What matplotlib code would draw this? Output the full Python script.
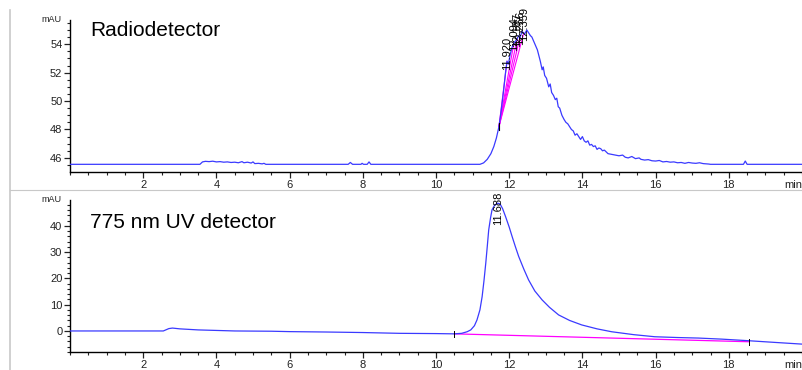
#!/usr/bin/env python3
"""Two stacked HPLC chromatograms: radiodetector (top) and 775 nm UV (bottom)."""

import matplotlib.pyplot as plt
import matplotlib.transforms as mtransforms
from matplotlib.lines import Line2D
from matplotlib.ticker import MultipleLocator, FixedLocator

plt.rcParams['font.family'] = ['Liberation Sans', 'DejaVu Sans']

TRACE = '#3a3aff'
BASELINE = '#ff00ff'
FRAME = '#c8c8c8'

# ---------------------------------------------------------------------------
# Radiodetector trace (min, mAU)
# ---------------------------------------------------------------------------
RADIO_T = [0.0, 3.55, 3.62, 3.7, 3.8, 3.9, 4.0, 4.1, 4.2, 4.3, 4.4, 4.5, 4.6,
           4.7, 4.75, 4.85, 4.95, 5.0, 5.05, 5.15, 5.25, 5.3, 5.35,
           7.6, 7.66, 7.72, 7.95, 7.98, 8.02, 8.12, 8.17, 8.22,
           11.2, 11.3, 11.4, 11.5, 11.58, 11.65, 11.72, 11.78, 11.85, 11.9,
           11.94, 11.98, 12.02, 12.08, 12.13, 12.2, 12.26, 12.3, 12.35, 12.42,
           12.48, 12.53, 12.58, 12.62, 12.67, 12.72, 12.77, 12.8, 12.85, 12.9,
           12.93, 12.97, 13.02, 13.08, 13.12, 13.16, 13.21, 13.26, 13.3, 13.34,
           13.38, 13.44, 13.5, 13.55, 13.6, 13.65, 13.7, 13.75, 13.8, 13.85,
           13.9, 13.95, 14.0, 14.05, 14.1, 14.15, 14.2, 14.25, 14.3, 14.35,
           14.4, 14.45, 14.5, 14.55, 14.6, 14.7, 14.8, 14.9, 15.0, 15.1,
           15.17, 15.25, 15.35, 15.45, 15.55, 15.6, 15.7, 15.8, 15.9, 16.0,
           16.1, 16.2, 16.3, 16.4, 16.5, 16.6, 16.7, 16.8, 16.9, 17.0,
           17.1, 17.2, 17.3, 17.45, 17.5, 18.4, 18.45, 18.5, 20.0]
RADIO_Y = [45.55, 45.55, 45.72, 45.76, 45.74, 45.77, 45.72, 45.74, 45.70, 45.72,
           45.68, 45.70, 45.66, 45.74, 45.66, 45.70, 45.64, 45.72, 45.60, 45.62,
           45.58, 45.62, 45.55,
           45.55, 45.68, 45.55, 45.55, 45.62, 45.55, 45.55, 45.72, 45.55,
           45.55, 45.65, 45.9, 46.3, 46.8, 47.4, 48.2, 49.3, 50.8, 52.0,
           52.8, 52.6, 53.2, 53.8, 54.1, 54.3, 54.6, 54.5, 54.9, 54.7,
           55.0, 54.8, 54.6, 54.5, 54.2, 53.9, 53.6, 53.3, 52.8, 52.2,
           52.4, 51.8, 51.6, 51.0, 51.2, 50.6, 50.4, 50.1, 50.2, 49.6,
           49.5, 49.0, 48.7, 48.5, 48.4, 48.2, 48.0, 47.9, 47.6, 47.7,
           47.5, 47.3, 47.5, 47.2, 47.1, 47.2, 46.9, 46.95, 46.8, 46.85,
           46.6, 46.7, 46.65, 46.5, 46.55, 46.3, 46.25, 46.2, 46.15, 46.2,
           46.05, 46.0, 46.1, 45.95, 46.0, 45.9, 45.85, 45.88, 45.8, 45.78,
           45.82, 45.72, 45.75, 45.7, 45.72, 45.66, 45.68, 45.62, 45.68, 45.64,
           45.62, 45.66, 45.6, 45.57, 45.55, 45.55, 45.78, 45.55, 45.55]

# Integrated peaks on the radio trace: apex time, apex height, label
RADIO_PEAK_T = [11.94, 12.13, 12.22, 12.30, 12.40]
RADIO_PEAK_Y = [52.8, 54.1, 54.4, 54.55, 54.8]
RADIO_PEAK_LBL = ['11.920', '12.094', '12.187', '12.266', '12.359']
RADIO_START = (11.72, 48.2)

# ---------------------------------------------------------------------------
# 775 nm UV trace (min, mAU)
# ---------------------------------------------------------------------------
UV_T = [0.0, 2.55, 2.7, 2.8, 3.0, 3.5, 4.0, 4.5, 5.5, 6.0, 7.0, 8.0, 9.0,
        10.0, 10.5, 10.7, 10.85, 10.95, 11.05, 11.12, 11.2, 11.26, 11.31,
        11.36, 11.4, 11.44, 11.49, 11.53, 11.6, 11.68, 11.75, 11.82, 11.9,
        12.0, 12.08, 12.17, 12.26, 12.4, 12.53, 12.7, 12.9, 13.1, 13.35,
        13.65, 13.98, 14.4, 14.8, 15.4, 15.98, 16.6, 17.17, 17.8, 18.53,
        19.2, 20.0]
UV_Y = [0.0, 0.0, 0.9, 1.1, 0.8, 0.4, 0.2, 0.0, -0.1, -0.25, -0.4, -0.6, -0.9,
        -1.0, -1.1, -0.9, -0.3, 0.4, 2.0, 4.2, 8.0, 13.0, 19.0,
        25.8, 32.0, 38.4, 43.0, 46.0, 47.8, 48.6, 48.3, 46.5, 43.5,
        39.5, 35.9, 32.0, 28.3, 23.5, 19.4, 15.2, 11.8, 9.0, 6.1,
        4.0, 2.3, 0.8, -0.3, -1.4, -2.2, -2.5, -2.7, -3.1, -3.7,
        -4.3, -5.0]

UV_PEAK_T = 11.70
UV_PEAK_LBL = '11.688'
UV_BASE_T = [10.5, 18.55]
UV_BASE_Y = [-1.1, -4.1]


def style_axis(ax, ylim, ymajor, yminor):
    ax.set_xlim(0, 20)
    ax.set_ylim(*ylim)
    for side in ('top', 'right'):
        ax.spines[side].set_visible(False)
    for side in ('left', 'bottom'):
        ax.spines[side].set_linewidth(1.0)
    ax.xaxis.set_major_locator(FixedLocator([2, 4, 6, 8, 10, 12, 14, 16, 18]))
    ax.xaxis.set_minor_locator(MultipleLocator(0.5))
    ax.yaxis.set_major_locator(FixedLocator(ymajor))
    ax.yaxis.set_minor_locator(MultipleLocator(yminor))
    ax.tick_params(which='major', length=4, width=0.9, labelsize=8,
                   pad=1.5, colors='#222222')
    ax.tick_params(which='minor', length=2.5, width=0.8, colors='#222222')
    ax.patch.set_alpha(0)

    # "mAU" unit at top of the y axis, "min" at the end of the x axis
    ax.text(-0.012, 1.0, 'mAU', transform=ax.transAxes, fontsize=6.5,
            ha='right', va='center', color='#222222')
    trans = mtransforms.offset_copy(ax.get_xaxis_transform(), fig=ax.figure,
                                    y=-5.5, units='points')
    ax.text(19.75, 0, 'min', transform=trans, fontsize=8, ha='center',
            va='top', color='#222222', clip_on=False)


def main():
    fig = plt.figure(figsize=(8.02, 3.70), dpi=100, facecolor='white')

    # light frame lines of the original report
    fig.add_artist(Line2D([10 / 802, 10 / 802], [0, 1 - 10 / 370],
                          color=FRAME, lw=1.2, transform=fig.transFigure))
    fig.add_artist(Line2D([10 / 802, 1], [1 - 190 / 370, 1 - 190 / 370],
                          color=FRAME, lw=0.8, transform=fig.transFigure))

    ax1 = fig.add_axes([70 / 802, 198 / 370, 732 / 802, 152 / 370])
    ax2 = fig.add_axes([70 / 802, 18 / 370, 732 / 802, 152 / 370])

    # ---- Radiodetector ----
    style_axis(ax1, (45.01, 55.7), [46, 48, 50, 52, 54], 0.5)
    ax1.plot(RADIO_T, RADIO_Y, color=TRACE, lw=0.9, zorder=3)
    for t, y in zip(RADIO_PEAK_T, RADIO_PEAK_Y):
        ax1.plot([RADIO_START[0], t], [RADIO_START[1], y], color=BASELINE,
                 lw=0.8, zorder=2)
    ax1.plot([RADIO_START[0]] * 2, [RADIO_START[1] - 0.25, RADIO_START[1] + 0.25],
             color='black', lw=0.8, zorder=4)
    for t, y, lbl in zip(RADIO_PEAK_T, RADIO_PEAK_Y, RADIO_PEAK_LBL):
        ax1.text(t, y - 0.6, lbl, rotation=90, ha='center', va='bottom',
                 fontsize=8, color='black', zorder=5)
    ax1.text(0.027, 0.93, 'Radiodetector', transform=ax1.transAxes,
             fontsize=15, ha='left', va='center', color='black')

    # ---- 775 nm UV detector ----
    style_axis(ax2, (-8, 49.8), [0, 10, 20, 30, 40], 2)
    ax2.plot(UV_BASE_T, UV_BASE_Y, color=BASELINE, lw=0.9, zorder=2)
    ax2.plot(UV_T, UV_Y, color=TRACE, lw=0.9, zorder=3)
    for t, y in zip(UV_BASE_T, UV_BASE_Y):
        ax2.plot([t, t], [y - 1.2, y + 1.2], color='black', lw=0.7, zorder=4)
    ax2.text(UV_PEAK_T, 40.3, UV_PEAK_LBL, rotation=90, ha='center',
             va='bottom', fontsize=8, color='black', clip_on=False, zorder=5)
    ax2.text(0.027, 0.85, '775 nm UV detector', transform=ax2.transAxes,
             fontsize=15, ha='left', va='center', color='black')

    fig.savefig('out.png', dpi=100, facecolor='white')
    plt.close(fig)


if __name__ == '__main__':
    main()
